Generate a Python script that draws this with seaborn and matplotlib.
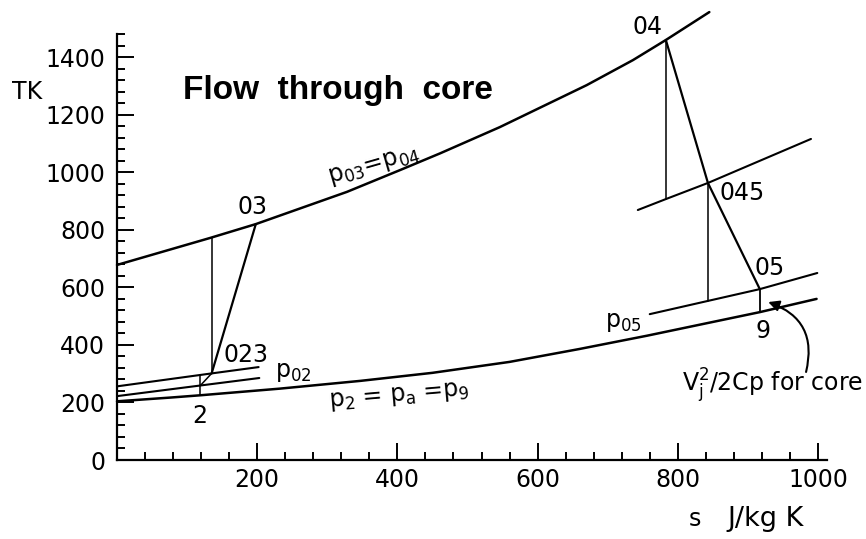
import matplotlib
matplotlib.use("Agg")
import matplotlib.pyplot as plt
import numpy as np
import pandas as pd
import seaborn as sns

# ---- data: T-s diagram of the core flow (s in J/kg K, T in K) ----
# combustor isobar p03 = p04
top_s = [0, 133, 198, 328, 404, 461, 546, 670, 736, 783, 845]
top_T = [678, 772, 820, 932, 1008, 1066, 1157, 1303, 1390, 1460, 1557]

# ambient isobar p2 = pa = p9
amb_s = [0, 76, 119, 232, 347, 450, 560, 660, 756, 917, 998]
amb_T = [204, 217, 225, 248, 275, 303, 341, 386, 432, 514, 560]

# fan inlet stagnation isobar p02
p02_s = [0, 119, 203]
p02_T = [222, 259, 285]

# fan exit isobar p023
p023_s = [0, 135, 202]
p023_T = [256, 301, 323]

# HP turbine exit isobar p045
p045_s = [743, 783, 843, 990]
p045_T = [869, 907, 963, 1116]

# LP turbine exit isobar p05
p05_s = [760, 843, 917, 999]
p05_T = [507, 553, 594, 650]

# process points
s2, T2 = 119, 225
s02, T02 = 119, 259
s02i, T02i = 119, 296
s023, T023 = 135, 301
s03i, T03i = 135, 773
s03, T03 = 198, 820
s04, T04 = 783, 1460
s045i, T045i = 783, 907
s045, T045 = 843, 963
s05i, T05i = 843, 553
s05, T05 = 917, 594
s9, T9 = 917, 514

y_major = [0, 200, 400, 600, 800, 1000, 1200, 1400]
x_major = [200, 400, 600, 800, 1000]

sns.set_theme(style="white")
plt.rcParams["font.family"] = ["DejaVu Sans"]
plt.rcParams["mathtext.fontset"] = "dejavusans"
for key in ("text.color", "axes.labelcolor", "xtick.color", "ytick.color",
            "axes.edgecolor"):
    plt.rcParams[key] = "black"

fig = plt.figure(figsize=(8.66, 5.39), dpi=100)
ax = fig.add_axes([117 / 866, 79 / 539, (866 - 117) / 866, 460 / 539])
ax.set_xlim(0, 1068.5)
ax.set_ylim(0, 1599)
ax.set_facecolor("white")


def curve(s, T, lw):
    df = pd.DataFrame({"s": s, "T": T})
    sns.lineplot(data=df, x="s", y="T", sort=False, estimator=None,
                 color="black", lw=lw, ax=ax, clip_on=False)


# isobars
curve(top_s, top_T, 1.8)
curve(amb_s, amb_T, 1.8)
curve(p02_s, p02_T, 1.5)
curve(p023_s, p023_T, 1.5)
curve(p045_s, p045_T, 1.5)
curve(p05_s, p05_T, 1.5)

# fan: intake rise, isentropic and actual compression
curve([s2, s02, s02i], [T2, T02, T02i], 1.1)
curve([s02, s023], [T02, T023], 1.1)
# core compressor
curve([s03i, s03i], [T023, T03i], 1.1)
curve([s023, s03], [T023, T03], 1.6)
# turbines and nozzle
curve([s04, s045i], [T04, T045i], 1.1)
curve([s045, s05i], [T045, T05i], 1.1)
curve([s04, s045, s05], [T04, T045, T05], 1.6)
curve([s05, s9], [T05, T9], 1.3)

# axes styling
for side in ("top", "right"):
    ax.spines[side].set_visible(False)
for side in ("left", "bottom"):
    ax.spines[side].set_color("black")
    ax.spines[side].set_linewidth(1.6)
ax.spines["left"].set_bounds(0, 1480)
ax.spines["bottom"].set_bounds(0, 1013)

ax.set_yticks(y_major)
ax.set_yticks(np.arange(40, 1481, 40), minor=True)
ax.set_xticks(x_major)
ax.set_xticks(np.arange(40, 1001, 40), minor=True)
ax.set_yticklabels([str(v) for v in y_major])
ax.set_xticklabels([str(v) for v in x_major])
ax.tick_params(which="major", direction="in", length=12, width=1.4,
               color="black", labelsize=17, labelcolor="black")
ax.tick_params(which="minor", direction="in", length=5.5, width=1.4,
               color="black")
ax.tick_params(axis="y", which="major", pad=8.5)
ax.tick_params(axis="x", which="major", pad=5.5)
ax.tick_params(axis="both", which="both", left=True, bottom=True)
ax.set_xlabel("")
ax.set_ylabel("")
ax.grid(False)

fs = 17
ax.text(-128, 1279, "TK", fontsize=fs, ha="center", va="center")
ax.text(94, 1255, "Flow  through  core", fontsize=24, fontweight="bold",
        family="Liberation Sans", ha="left", va="baseline")
ax.text(815, -205, "s", fontsize=fs, ha="left", va="center")
ax.text(871, -205, "J/kg K", fontsize=19.5, ha="left", va="center")

ax.text(194, 879, "03", fontsize=fs, ha="center", va="center")
ax.text(184, 365, "023", fontsize=fs, ha="center", va="center")
ax.text(252, 306, r"p$_{02}$", fontsize=fs, ha="center", va="center")
ax.text(367, 1022, r"p$_{03}$=p$_{04}$", fontsize=fs, ha="center",
        va="center", rotation=16, rotation_mode="anchor")
ax.text(757, 1505, "04", fontsize=fs, ha="center", va="center")
ax.text(892, 928, "045", fontsize=fs, ha="center", va="center")
ax.text(931, 667, "05", fontsize=fs, ha="center", va="center")
ax.text(722, 480, r"p$_{05}$", fontsize=fs, ha="center", va="center")
ax.text(922, 448, "9", fontsize=fs, ha="center", va="center")
ax.text(118, 153, "2", fontsize=fs, ha="center", va="center")
ax.text(403, 222, r"p$_2$ = p$_\mathrm{a}$ =p$_9$", fontsize=fs,
        ha="center", va="center", rotation=5, rotation_mode="anchor")
ax.text(806, 260, r"V$_\mathrm{j}^2$/2Cp for core", fontsize=fs, ha="left",
        va="center")

ax.annotate("", xy=(929, 549), xytext=(983, 306),
            arrowprops=dict(arrowstyle="-|>", color="black", lw=1.5,
                            mutation_scale=16, shrinkA=0, shrinkB=0,
                            connectionstyle="arc3,rad=0.45"),
            annotation_clip=False)

fig.savefig("out.png", dpi=100, facecolor="white")
